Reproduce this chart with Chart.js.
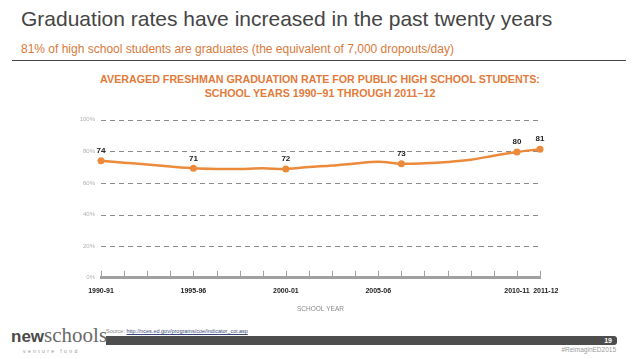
<!DOCTYPE html>
<html>
<head>
<meta charset="utf-8">
<script src="https://cdn.jsdelivr.net/npm/chart.js@4.4.1/dist/chart.umd.min.js"></script>
<style>
  body { margin: 0; width: 638px; height: 359px; background: #fff; position: relative; overflow: hidden; font-family: "Liberation Sans", Arial, sans-serif; }
  .title { position: absolute; left: 21px; top: 7px; font-size: 21px; color: #454545; white-space: nowrap; }
  .subtitle { position: absolute; left: 21px; top: 42px; font-size: 12px; color: #d97a3c; white-space: nowrap; }
  .rule { position: absolute; left: 12px; top: 60px; width: 614px; height: 1px; background: #444; }
  .ctitle { position: absolute; left: 0; width: 640px; top: 72px; text-align: center; font-size: 10.7px; line-height: 14.3px; font-weight: bold; color: #e27a3a; white-space: nowrap; }
  #wrap { position: absolute; left: 0; top: 110px; width: 638px; height: 204px; }
  .source { position: absolute; left: 106px; top: 328px; font-size: 5.5px; color: #888; white-space: nowrap; }
  .source a { color: #3a4a7a; text-decoration: underline; }
  .bar { position: absolute; left: 106px; top: 336px; width: 511px; height: 9px; background: #4d4d4d; border-radius: 0 3px 3px 0; }
  .page { position: absolute; right: 26px; top: 336px; font-size: 7px; line-height: 9px; font-weight: bold; color: #fff; }
  .tag { position: absolute; right: 22px; top: 346px; font-size: 6.5px; color: #999; }
  .logo { position: absolute; left: 11px; top: 325px; white-space: nowrap; line-height: 20px; }
  .logo .n { font-family: "Liberation Sans", Arial, sans-serif; font-weight: bold; font-size: 17px; color: #4a4a4a; }
  .logo .s { font-family: "Liberation Serif", serif; font-size: 21px; color: #6a6a6a; }
  .fund { position: absolute; left: 23px; top: 348px; font-size: 5px; letter-spacing: 2.4px; color: #999; }
</style>
</head>
<body>
<div class="title">Graduation rates have increased in the past twenty years</div>
<div class="subtitle">81% of high school students are graduates (the equivalent of 7,000 dropouts/day)</div>
<div class="rule"></div>
<div class="ctitle">AVERAGED FRESHMAN GRADUATION RATE FOR PUBLIC HIGH SCHOOL STUDENTS:<br>SCHOOL YEARS 1990&ndash;91 THROUGH 2011&ndash;12</div>
<div id="wrap"><canvas id="chart"></canvas></div>
<div class="source">Source: <a>http://nces.ed.gov/programs/coe/indicator_coi.asp</a></div>
<div class="bar"></div>
<div class="page">19</div>
<div class="tag">#ReimaginED2015</div>
<div class="logo"><span class="n">new</span><span class="s">schools</span></div>
<div class="fund">venture fund</div>
<script>
// axe des annees scolaires (20 graduations, libelles seulement sur certaines)
const schoolYears = ['1990-91', '', '', '', '1995-96', '', '', '', '2000-01', '', '', '',
  '2005-06', '', '', '', '', '', '2010-11', '      2011-12'];
// taux
const gradRate = [74.0, 72.8, 71.6, 70.3, 69.2, 68.8, 68.8, 69.2, 68.8, 70.0,
  71.0, 72.3, 73.4, 72.1, 72.4, 73.2, 74.6, 77.2, 79.5, 81.3];
// valeurs affichees au-dessus des points
const pointLabels = [74, null, null, null, 71, null, null, null, 72, null,
  null, null, null, 73, null, null, null, null, 80, 81];
const yTicks = [0, 20, 40, 60, 80, 100];

const orange = '#ec8a3c';

// grille pointillee, petites graduations vers le haut, etiquettes des points
const extras = {
  id: 'extras',
  beforeDatasetsDraw(chart) {
    const ctx = chart.ctx;
    const y = chart.scales.y;
    const { left, right } = chart.chartArea;
    ctx.save();
    ctx.strokeStyle = '#8c8c8c';
    ctx.lineWidth = 1;
    ctx.setLineDash([5, 4]);
    yTicks.forEach(v => {
      if (v === 0) return;
      const py = Math.round(y.getPixelForValue(v)) + 0.5;
      ctx.beginPath();
      ctx.moveTo(left, py);
      ctx.lineTo(right, py);
      ctx.stroke();
    });
    ctx.restore();
  },
  afterDatasetsDraw(chart) {
    const ctx = chart.ctx;
    const x = chart.scales.x;
    const bottom = chart.chartArea.bottom;
    ctx.save();
    ctx.strokeStyle = '#a0a0a0';
    ctx.lineWidth = 1;
    x.ticks.forEach((t, i) => {
      const px = Math.round(x.getPixelForTick(i)) + 0.5;
      ctx.beginPath();
      ctx.moveTo(px, bottom - 7);
      ctx.lineTo(px, bottom);
      ctx.stroke();
    });
    const meta = chart.getDatasetMeta(0);
    ctx.fillStyle = '#222';
    ctx.font = 'bold 8px "Liberation Sans", Arial, sans-serif';
    ctx.textAlign = 'center';
    ctx.textBaseline = 'bottom';
    meta.data.forEach((pt, i) => {
      if (pointLabels[i] == null) return;
      ctx.fillText(pointLabels[i], pt.x, pt.y - 6);
    });
    ctx.restore();
  }
};

new Chart(document.getElementById('chart'), {
  type: 'line',
  data: {
    labels: schoolYears,
    datasets: [{
      data: gradRate,
      borderColor: orange,
      backgroundColor: orange,
      borderWidth: 2.5,
      tension: 0.35,
      pointRadius: pointLabels.map(v => v == null ? 0 : 3.5),
      pointBorderWidth: 0
    }]
  },
  options: {
    responsive: true,
    maintainAspectRatio: false,
    animation: false,
    layout: { padding: { left: 0, right: 98, top: 9, bottom: 1 } },
    plugins: {
      legend: { display: false },
      tooltip: { enabled: false }
    },
    scales: {
      x: {
        offset: false,
        grid: { display: false, drawTicks: false },
        border: { display: true, color: '#a0a0a0', width: 3 },
        ticks: {
          autoSkip: false, maxRotation: 0, padding: 9,
          color: '#222',
          font: { family: '"Liberation Sans", Arial, sans-serif', size: 7, weight: 'bold' }
        },
        title: {
          display: true, text: 'SCHOOL YEAR', color: '#8a8a8a',
          font: { family: '"Liberation Sans", Arial, sans-serif', size: 6.5 },
          padding: { top: 1, bottom: 0 }
        }
      },
      y: {
        min: 0, max: 100,
        afterBuildTicks: s => { s.ticks = yTicks.map(v => ({ value: v })); },
        afterFit: s => { s.width = 101; },
        grid: { display: false, drawTicks: false },
        border: { display: false },
        ticks: {
          padding: 6,
          color: '#b0b0b0',
          font: { family: '"Liberation Sans", Arial, sans-serif', size: 6 },
          callback: v => v + '%'
        }
      }
    }
  },
  plugins: [extras]
});
</script>
</body>
</html>
